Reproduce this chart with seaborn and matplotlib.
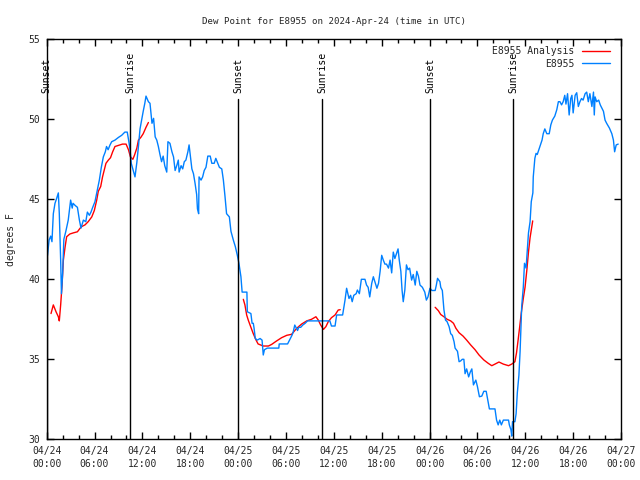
import numpy as np
import pandas as pd
import matplotlib
matplotlib.use("Agg")
import matplotlib.pyplot as plt
import seaborn as sns
from matplotlib.lines import Line2D

# ---- data (hours since 2024-04-24 00:00 UTC, dew point in F) ----
obs_hours = [0.0, 0.1, 0.3, 0.5, 0.66, 0.83, 1.04, 1.25, 1.46, 1.58, 1.75, 1.85, 2.0, 2.15, 2.4, 2.7, 3.0, 3.2, 3.3, 3.6,
             3.85, 4.1, 4.3, 4.6, 4.9, 5.1, 5.35, 5.55, 5.77, 6.05, 6.35, 6.6, 6.85, 7.1, 7.35, 7.5, 7.7, 7.94, 8.15, 8.56,
             9.0, 9.4, 9.8, 10.1, 10.3, 10.45, 10.6, 10.85, 11.07, 11.3, 11.5, 11.7, 11.9, 12.1, 12.3, 12.45, 12.75, 12.95, 13.2, 13.4,
             13.6, 13.8, 14.0, 14.2, 14.4, 14.6, 14.8, 15.05, 15.2, 15.45, 15.7, 15.9, 16.1, 16.3, 16.5, 16.6, 16.85, 17.05, 17.25, 17.45,
             17.7, 17.85, 17.97, 18.2, 18.4, 18.6, 18.8, 18.9, 19.05, 19.1, 19.35, 19.55, 19.75, 19.97, 20.2, 20.5, 20.7, 21.0, 21.2, 21.45,
             21.65, 21.95, 22.15, 22.35, 22.55, 22.9, 23.1, 23.4, 23.65, 23.9, 24.1, 24.35, 24.5, 25.1, 25.15, 25.6, 25.75, 25.9, 26.0, 26.15,
             26.4, 26.75, 27.0, 27.15, 27.3, 27.65, 29.1, 29.15, 30.2, 30.5, 30.75, 30.9, 31.1, 31.25, 31.45, 31.6, 31.85, 32.1, 32.4, 32.7,
             35.5, 35.7, 36.15, 36.35, 37.1, 37.4, 37.6, 37.9, 38.1, 38.3, 38.5, 38.8, 38.95, 39.2, 39.45, 39.9, 40.1, 40.3, 40.5, 40.75,
             40.95, 41.15, 41.4, 41.6, 41.8, 42.0, 42.2, 42.4, 42.6, 42.85, 43.05, 43.25, 43.45, 43.65, 43.85, 44.05, 44.2, 44.4, 44.55, 44.7,
             44.9, 45.1, 45.3, 45.5, 45.75, 45.95, 46.2, 46.4, 46.6, 46.8, 47.1, 47.4, 47.6, 47.8, 48.05, 48.3, 48.7, 48.85, 49.0, 49.3,
             49.4, 49.6, 49.8, 50.0, 50.2, 50.45, 50.65, 50.85, 51.07, 51.2, 51.5, 51.7, 51.9, 52.1, 52.3, 52.45, 52.65, 52.9, 53.1, 53.3,
             53.5, 53.8, 54.0, 54.25, 54.55, 54.8, 55.1, 55.3, 55.5, 56.2, 56.4, 56.6, 56.8, 57.0, 57.25, 57.9, 58.0, 58.2, 58.3, 58.4,
             58.7, 58.85, 59.0, 59.2, 59.35, 59.55, 59.75, 59.9, 60.1, 60.25, 60.4, 60.6, 60.75, 60.95, 61.0, 61.2, 61.35, 61.5, 61.7, 61.9,
             62.1, 62.25, 62.45, 62.7, 63.0, 63.2, 63.4, 63.7, 63.95, 64.15, 64.35, 64.55, 64.75, 64.95, 65.1, 65.3, 65.5, 65.7, 65.85, 66.0,
             66.25, 66.45, 66.65, 66.85, 67.05, 67.25, 67.5, 67.7, 67.9, 68.1, 68.35, 68.55, 68.65, 68.75, 68.95, 69.2, 69.4, 69.6, 69.8, 70.0,
             70.2, 70.55, 70.85, 71.05, 71.2, 71.4, 71.65]
obs_values = [41.4, 41.5, 42.45, 42.7, 42.35, 44.1, 44.75, 45.06, 45.4, 44.1, 41.2, 39.1, 40.4, 42.5, 43.0, 43.7, 44.95, 44.45, 44.75, 44.6,
              44.5, 43.7, 43.2, 43.7, 43.6, 44.2, 44.0, 44.2, 44.5, 44.85, 45.6, 46.2, 47.0, 47.65, 47.97, 48.3, 48.1, 48.4, 48.6, 48.7,
              48.87, 49.0, 49.2, 49.2, 48.6, 48.1, 47.25, 46.8, 46.4, 47.3, 48.3, 49.4, 49.95, 50.5, 51.0, 51.45, 51.1, 51.0, 49.75, 50.06,
              48.9, 48.7, 48.3, 47.8, 47.35, 47.7, 47.1, 46.7, 48.6, 48.5, 47.97, 47.65, 46.8, 47.1, 47.45, 46.7, 47.1, 46.9, 47.35, 47.45,
              47.97, 48.4, 47.9, 46.9, 46.6, 46.0, 45.3, 44.4, 44.1, 46.4, 46.2, 46.4, 46.8, 47.0, 47.7, 47.7, 47.25, 47.25, 47.56, 47.25,
              47.0, 46.9, 46.2, 45.2, 44.1, 43.9, 43.0, 42.45, 42.04, 41.5, 41.0, 40.16, 39.2, 39.2, 37.97, 37.86, 37.25, 37.25, 36.94, 36.3,
              36.2, 36.3, 36.2, 35.27, 35.6, 35.7, 35.7, 35.96, 35.96, 36.25, 36.5, 36.7, 37.14, 37.0, 36.8, 37.0, 37.0, 37.14, 37.25, 37.4,
              37.4, 37.08, 37.08, 37.77, 37.77, 38.7, 39.44, 38.8, 39.0, 38.6, 39.0, 39.1, 39.33, 39.1, 40.0, 40.0, 39.64, 39.5, 38.9, 39.75,
              40.16, 39.85, 39.44, 39.75, 40.5, 41.5, 41.2, 40.95, 40.95, 40.7, 41.2, 40.4, 41.7, 41.3, 41.6, 41.9, 41.2, 40.5, 39.33, 38.6,
              39.33, 40.9, 40.6, 40.7, 39.95, 40.3, 39.64, 40.5, 40.2, 39.64, 39.5, 39.2, 38.7, 38.9, 39.44, 39.3, 39.3, 39.64, 40.06, 39.85,
              39.5, 39.3, 38.1, 37.45, 37.35, 37.04, 36.6, 36.5, 36.1, 35.7, 35.5, 34.85, 34.9, 35.0, 35.0, 34.1, 34.4, 33.9, 34.2, 34.4,
              33.4, 33.7, 33.3, 32.66, 32.7, 33.0, 33.0, 32.45, 31.9, 31.9, 31.2, 30.9, 31.2, 30.9, 31.2, 31.2, 30.9, 30.6, 30.2, 31.1,
              31.1, 31.6, 32.9, 34.0, 35.5, 38.3, 39.5, 41.0, 40.7, 41.8, 42.9, 43.6, 44.85, 45.4, 46.4, 47.56, 47.87, 47.8, 48.1, 48.4,
              48.7, 49.1, 49.4, 49.1, 49.1, 49.65, 49.95, 50.2, 50.6, 51.1, 51.1, 50.9, 51.1, 51.5, 50.95, 51.6, 50.27, 51.3, 51.5, 50.4,
              51.5, 51.66, 50.8, 51.1, 51.3, 51.2, 51.6, 51.7, 51.1, 51.6, 50.8, 51.7, 50.27, 51.4, 51.1, 51.2, 50.9, 50.7, 50.5, 49.95,
              49.75, 49.45, 49.1, 48.7, 47.97, 48.4, 48.45]

ana1_hours = [0.54, 0.83, 1.17, 1.46, 1.58, 1.75, 1.92, 2.09, 2.3, 2.5, 2.9, 3.33, 3.85, 4.2, 4.4, 4.8, 5.2, 5.65, 5.97, 6.27,
              6.47, 6.77, 7.0, 7.2, 7.43, 7.73, 8.0, 8.27, 8.56, 9.0, 9.5, 9.95, 10.25, 10.5, 10.8, 11.0, 11.3, 11.5, 11.8, 12.1,
              12.45, 12.75]
ana1_values = [37.86, 38.4, 37.97, 37.66, 37.4, 38.4, 39.6, 41.2, 42.0, 42.66, 42.83, 42.9, 42.97, 43.2, 43.3, 43.4, 43.6, 43.9, 44.3, 44.95,
               45.5, 45.8, 46.4, 46.8, 47.25, 47.45, 47.6, 47.97, 48.3, 48.37, 48.45, 48.45, 48.1, 47.65, 47.5, 47.75, 48.2, 48.7, 48.87, 49.1,
               49.5, 49.8]
ana2_hours = [24.65, 24.85, 25.07, 25.27, 25.6, 25.9, 26.25, 26.5, 27.15, 27.8, 28.2, 28.8, 29.45, 30.1, 30.7, 31.35, 31.95, 32.6, 33.2, 33.75,
              34.05, 34.35, 34.7, 35.0, 35.3, 35.7, 36.15, 36.55, 36.8]
ana2_values = [38.75, 38.4, 37.77, 37.45, 37.0, 36.6, 36.2, 35.96, 35.83, 35.83, 35.93, 36.14, 36.35, 36.5, 36.56, 36.94, 37.2, 37.4, 37.5, 37.66,
               37.45, 37.14, 36.87, 37.04, 37.35, 37.6, 37.77, 38.08, 38.1]
ana3_hours = [48.7, 49.1, 49.4, 49.8, 50.2, 50.65, 51.0, 51.3, 51.7, 52.2, 52.65, 53.15, 53.7, 54.2, 54.8, 55.35, 55.8, 56.2, 56.7, 57.25,
              57.9, 58.3, 58.7, 58.9, 59.1, 59.3, 59.5, 59.75, 59.97, 60.2, 60.4, 60.6, 60.93]
ana3_values = [38.25, 38.04, 37.8, 37.66, 37.5, 37.4, 37.25, 36.94, 36.66, 36.45, 36.2, 35.9, 35.6, 35.27, 34.96, 34.75, 34.6, 34.7, 34.83, 34.7,
               34.6, 34.7, 34.85, 35.4, 36.2, 37.04, 37.9, 38.8, 39.5, 40.6, 41.7, 42.6, 43.65]

sun_hours = [0.0, 10.48, 24.03, 34.55, 48.1, 58.5]
sun_labels = ["Sunset", "Sunrise", "Sunset", "Sunrise", "Sunset", "Sunrise"]

tick_hours = [0, 6, 12, 18, 24, 30, 36, 42, 48, 54, 60, 66, 72]
tick_labels = ["04/24\n00:00", "04/24\n06:00", "04/24\n12:00", "04/24\n18:00",
               "04/25\n00:00", "04/25\n06:00", "04/25\n12:00", "04/25\n18:00",
               "04/26\n00:00", "04/26\n06:00", "04/26\n12:00", "04/26\n18:00",
               "04/27\n00:00"]
y_ticks = [30, 35, 40, 45, 50, 55]

# ---- plot ----
sns.set_theme(style="white")
plt.rcParams["font.family"] = ["DejaVu Sans Mono"]
plt.rcParams["font.size"] = 7

fig = plt.figure(figsize=(6.4, 4.8), dpi=100)
ax = fig.add_axes([46.7 / 640, 1 - 439.3 / 480, (621 - 46.7) / 640, 400 / 480])

RED = "#ff0000"
BLUE = "#0080ff"

ana_df = pd.concat([
    pd.DataFrame({"hour": ana1_hours, "value": ana1_values, "seg": 1}),
    pd.DataFrame({"hour": ana2_hours, "value": ana2_values, "seg": 2}),
    pd.DataFrame({"hour": ana3_hours, "value": ana3_values, "seg": 3}),
])
obs_df = pd.DataFrame({"hour": obs_hours, "value": obs_values})

sns.lineplot(data=ana_df, x="hour", y="value", units="seg", estimator=None,
             color=RED, linewidth=1.0, ax=ax, sort=False)
sns.lineplot(data=obs_df, x="hour", y="value", color=BLUE, linewidth=1.0,
             ax=ax, sort=False)

for h, lab in zip(sun_hours, sun_labels):
    ax.plot([h, h], [30, 51.3], color="black", linewidth=1.0, zorder=3)
    ax.text(h, 51.65, lab, rotation=90, ha="center", va="bottom",
            fontsize=7, color="black")

ax.set_xlim(0, 72)
ax.set_ylim(30, 55)
ax.set_xticks(tick_hours)
ax.set_xticklabels(tick_labels, fontsize=7, linespacing=1.35)
ax.set_xticks(np.arange(0, 73, 2), minor=True)
ax.set_yticks(y_ticks)
ax.set_yticklabels([str(v) for v in y_ticks], fontsize=7)
ax.tick_params(axis="both", which="both", direction="in", top=True, right=True,
               bottom=True, left=True, color="black", width=1.0)
ax.tick_params(axis="both", which="major", length=5, pad=5)
ax.tick_params(axis="x", which="minor", length=3)
ax.set_xlabel("")
ax.set_ylabel("degrees F", fontsize=7, labelpad=9)
for s in ax.spines.values():
    s.set_color("black")
    s.set_linewidth(1.0)
    s.set_visible(True)

ax.set_title("Dew Point for E8955 on 2024-Apr-24 (time in UTC)", fontsize=6.6, pad=11)

handles = [Line2D([], [], color=RED, lw=1.0), Line2D([], [], color=BLUE, lw=1.0)]
ax.legend(handles, ["E8955 Analysis", "E8955"], loc="upper right", markerfirst=False,
          frameon=False, fontsize=7, handlelength=2.9, handletextpad=0.8,
          labelspacing=0.25, borderaxespad=0.3, bbox_to_anchor=(0.993, 1.0))

fig.savefig("out.png", dpi=100, facecolor="white")
